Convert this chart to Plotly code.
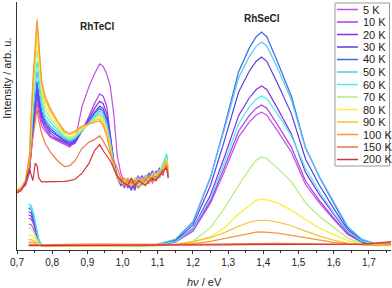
import plotly.graph_objects as go

temps = ["5 K", "10 K", "20 K", "30 K", "40 K", "50 K", "60 K", "70 K", "80 K", "90 K", "100 K", "150 K", "200 K"]
colors = ["#C24FE0", "#A83CEC", "#8A2EEA", "#5A3EE2", "#3A6AE4", "#58C4F6", "#46EEE2",
          "#AEEE80", "#F4EE3C", "#F6C232", "#F6963A", "#F27446", "#D43434"]

# RhSeCl spectra
se_x = [0.733, 0.740, 0.747, 0.755, 0.762, 0.770, 0.80, 0.90, 1.00, 1.05, 1.10, 1.15, 1.20, 1.25, 1.29,
        1.33, 1.36, 1.38, 1.395, 1.41, 1.44, 1.48, 1.52, 1.56, 1.60, 1.64, 1.68, 1.72, 1.763]
se_5 = [10.5, 10.2, 8.7, 5.6, 2.9, 1.9, 1.6, 1.6, 1.6, 1.7, 2.0, 3.2, 7.5, 18.9, 31.8, 45.6, 51.6, 54.4, 55.6, 54.4, 48.1, 39.4, 26.4, 18.9, 12.4, 6.2, 3.2, 2.1, 2.1]
se_10 = [12.8, 12.5, 10.6, 6.6, 3.3, 1.9, 1.6, 1.6, 1.6, 1.7, 2.1, 3.3, 7.9, 19.8, 33.5, 48.0, 54.2, 57.2, 58.5, 57.2, 50.6, 41.4, 27.8, 19.8, 13.0, 6.4, 3.3, 2.2, 2.2]
se_20 = [14.1, 13.7, 11.6, 7.2, 3.5, 2.0, 1.6, 1.6, 1.6, 1.7, 2.1, 3.5, 8.7, 22.2, 37.7, 54.2, 61.3, 64.7, 66.1, 64.7, 57.2, 46.8, 31.3, 22.2, 14.5, 7.1, 3.5, 2.2, 2.2]
se_30 = [15.4, 15.0, 12.6, 7.8, 3.7, 2.0, 1.6, 1.6, 1.6, 1.8, 2.2, 3.9, 10.0, 26.0, 44.3, 63.7, 72.1, 76.1, 77.8, 76.1, 67.3, 54.9, 36.7, 26.0, 16.8, 8.1, 3.9, 2.4, 2.4]
se_40 = [16.8, 16.3, 13.8, 8.4, 3.9, 2.1, 1.6, 1.6, 1.6, 1.8, 2.3, 4.2, 11.1, 29.2, 49.9, 71.9, 81.4, 86.0, 87.9, 86.0, 76.0, 62.0, 41.3, 29.2, 18.9, 8.9, 4.2, 2.5, 2.5]
se_50 = [18.5, 18.0, 15.1, 9.2, 4.1, 2.1, 1.6, 1.6, 1.6, 1.8, 2.3, 4.3, 11.5, 29.5, 49.0, 69.5, 78.0, 82.1, 83.9, 82.3, 73.5, 60.5, 41.0, 29.5, 19.5, 9.5, 4.4, 2.5, 2.5]
se_60 = [17.5, 17.0, 14.3, 8.8, 4.0, 2.1, 1.6, 1.6, 1.6, 1.7, 2.1, 3.4, 8.3, 21.0, 35.5, 50.9, 57.6, 60.8, 62.1, 61.0, 55.0, 46.0, 33.0, 23.5, 15.0, 7.5, 3.6, 2.3, 2.3]
se_70 = [8.9, 8.7, 7.4, 4.9, 2.7, 1.8, 1.6, 1.6, 1.6, 1.7, 1.8, 2.3, 3.5, 9.0, 17.0, 26.0, 32.5, 36.2, 37.5, 36.8, 33.0, 27.5, 19.0, 13.5, 9.0, 4.8, 2.7, 2.0, 2.0]
se_80 = [6.0, 5.9, 5.1, 3.6, 2.3, 1.7, 1.6, 1.6, 1.6, 1.6, 1.7, 2.2, 3.2, 5.4, 9.0, 14.5, 18.0, 20.0, 20.6, 20.2, 19.0, 16.0, 12.3, 8.8, 6.2, 3.8, 2.5, 2.0, 2.0]
se_90 = [4.3, 4.2, 3.8, 2.8, 2.0, 1.7, 1.6, 1.6, 1.6, 1.6, 1.8, 2.3, 3.4, 5.0, 7.0, 9.6, 11.2, 11.9, 12.1, 12.0, 11.3, 9.8, 7.6, 5.6, 4.0, 2.8, 2.1, 1.8, 1.8]
se_100 = [3.3, 3.2, 3.0, 2.4, 1.9, 1.7, 1.8, 2.0, 2.0, 1.8, 1.9, 2.2, 2.6, 3.5, 4.6, 5.9, 6.8, 7.2, 7.3, 7.2, 6.8, 5.9, 4.9, 3.9, 3.1, 2.6, 2.2, 2.0, 2.3]
se_150 = [2.4, 2.4, 2.3, 2.1, 2.0, 2.0, 2.2, 2.4, 2.3, 2.2, 2.2, 2.2, 2.3, 2.4, 2.5, 2.6, 2.7, 2.7, 2.8, 2.7, 2.7, 2.6, 2.5, 2.4, 2.3, 2.3, 2.4, 2.6, 3.0]
se_200 = [1.8, 1.8, 1.8, 1.8, 1.8, 1.8, 2.0, 2.1, 2.1, 2.0, 2.0, 2.0, 2.0, 2.1, 2.1, 2.2, 2.2, 2.2, 2.3, 2.2, 2.2, 2.2, 2.1, 2.1, 2.1, 2.2, 2.4, 2.8, 3.4]

# RhTeCl spectra (offset)
te_x = [0.700, 0.712, 0.724, 0.735, 0.745, 0.752, 0.757, 0.762, 0.770, 0.780, 0.795, 0.815, 0.835, 0.850,
        0.865, 0.885, 0.905, 0.920, 0.935, 0.945, 0.955, 0.965, 0.975, 0.985, 0.995, 1.005, 1.015, 1.025,
        1.035, 1.045, 1.055, 1.065, 1.075, 1.085, 1.095, 1.105, 1.115, 1.125, 1.130]
te_5 = [23.5, 24.5, 26, 31, 47, 56, 60, 55, 50, 48, 45.5, 44, 42.5, 41.5, 44, 58, 66, 71, 75, 74, 71, 66, 55, 38, 31, 27, 29, 25, 28, 30, 26, 29, 27, 31, 29, 32, 30, 35, 30]
te_10 = [23.5, 25, 26.5, 31, 48, 58, 62, 57, 52, 49, 46, 44.5, 43, 42, 43, 48, 54, 59, 63, 62, 58, 48, 36, 30, 28, 25, 28, 27, 24, 29, 28, 26, 30, 28, 32, 29, 33, 37, 31]
te_20 = [23.5, 25, 26.5, 32, 49, 59, 64, 59, 53, 50, 47, 45, 43.5, 42.5, 43.5, 48, 53, 57, 60, 59, 55, 46, 36, 29, 27, 29, 25, 28, 26, 27, 30, 27, 29, 32, 28, 31, 34, 35, 30]
te_30 = [24, 25, 27, 32, 50, 61, 66, 61, 54.5, 51, 48, 46, 44, 43, 44, 48, 52.5, 55.5, 58, 57, 53, 45, 35, 29, 26, 28, 27, 24, 29, 26, 28, 30, 27, 29, 31, 30, 32, 38, 31]
te_40 = [24, 25, 27, 33, 51, 63, 68, 63, 56, 52, 49, 46.5, 44.5, 43.5, 44.5, 48, 52, 55, 57, 56, 52, 45, 35, 29, 28, 26, 29, 27, 25, 28, 27, 29, 31, 28, 30, 33, 31, 36, 30]
te_50 = [24, 25, 27, 33, 54, 67, 72, 66, 58, 53, 50, 47.5, 45, 44, 45, 48, 51.5, 54, 56, 55, 51, 44, 35, 29, 27, 29, 26, 28, 27, 25, 29, 28, 27, 30, 29, 31, 35, 38, 32]
te_60 = [24, 25, 27, 34, 57, 71, 76, 70, 60, 54.5, 51.5, 48.5, 45.5, 44.5, 45.5, 48, 51, 53.5, 55, 54, 50, 43, 34, 29, 29, 27, 28, 26, 28, 29, 26, 28, 30, 29, 31, 29, 33, 39, 31]
te_70 = [24, 25, 27.5, 35, 60, 75, 81, 74, 63, 56.5, 53, 49.5, 46, 45, 46, 48.5, 51, 53, 54.5, 53, 49, 42, 34, 29, 28, 26, 27, 29, 27, 28, 27, 30, 28, 31, 30, 32, 34, 36, 33]
te_80 = [24, 25, 27.5, 36, 63, 79, 86, 78, 65, 58.5, 54.5, 50.5, 47, 45.5, 46.5, 49, 51, 52.5, 54, 52, 48, 41, 33, 29, 27, 28, 26, 27, 29, 26, 28, 27, 29, 30, 28, 31, 32, 37, 32]
te_90 = [24, 25, 28, 37, 66, 83, 91, 82, 67, 60.5, 56, 51.5, 47.5, 46.5, 47.5, 49.5, 51, 52, 53, 51, 47, 41, 33, 29, 28, 27, 29, 26, 27, 28, 29, 26, 28, 29, 31, 30, 33, 36, 31]
te_100 = [24, 25, 28, 38, 68, 85, 93, 84, 68, 62, 57, 52, 48, 47, 48, 50, 51, 51.5, 52, 50, 46, 40, 33, 29, 27, 29, 27, 28, 26, 27, 28, 29, 27, 30, 29, 31, 32, 35, 30]
te_150 = [23.5, 24.5, 27, 33, 45, 53, 57, 52, 47, 43, 39.5, 36, 33.6, 34, 36, 41, 43.5, 44.5, 46, 44, 41, 38.5, 36, 33, 29, 26, 28, 27, 28, 25, 27, 28, 30, 27, 29, 30, 31, 34, 29]
te_200 = [23, 24, 27, 33, 28, 35, 34, 29, 27.5, 27.5, 27.5, 27.5, 27.7, 28, 28.5, 31, 35, 40, 42.5, 40, 38, 36, 33, 30, 28, 27, 26, 29, 26, 28, 27, 26, 28, 29, 28, 30, 32, 33, 29]

xtick_vals = [0.7, 0.8, 0.9, 1.0, 1.1, 1.2, 1.3, 1.4, 1.5, 1.6, 1.7]
xtick_text = ["0,7", "0,8", "0,9", "1,0", "1,1", "1,2", "1,3", "1,4", "1,5", "1,6", "1,7"]
xminor_vals = [0.75, 0.85, 0.95, 1.05, 1.15, 1.25, 1.35, 1.45, 1.55, 1.65, 1.75]

se_series = [se_5, se_10, se_20, se_30, se_40, se_50, se_60, se_70, se_80, se_90, se_100, se_150, se_200]
te_series = [te_5, te_10, te_20, te_30, te_40, te_50, te_60, te_70, te_80, te_90, te_100, te_150, te_200]

FONT = "Liberation Sans, Arial, sans-serif"
fig = go.Figure()
for name, col, sy, ty in zip(temps, colors, se_series, te_series):
    fig.add_trace(go.Scatter(x=se_x, y=sy, mode="lines", name=name, showlegend=False,
                             line=dict(color=col, width=1.2)))
    fig.add_trace(go.Scatter(x=te_x, y=ty, mode="lines", name=name, showlegend=False,
                             line=dict(color=col, width=1.2)))

XR = [0.7, 1.763]
fig.update_layout(
    width=392, height=288,
    margin=dict(l=17, r=1, t=2, b=38),
    paper_bgcolor="white", plot_bgcolor="white",
    font=dict(family=FONT, size=10, color="#222"),
    xaxis=dict(range=XR, showline=True, linecolor="#333", linewidth=1, showgrid=False, zeroline=False,
               ticks="outside", ticklen=3, tickcolor="#333", tickvals=xtick_vals, ticktext=xtick_text,
               tickfont=dict(size=10, family=FONT, color="#222"),
               minor=dict(tickvals=xminor_vals, ticks="outside", ticklen=2, tickcolor="#333")),
    xaxis2=dict(range=XR, overlaying="x", side="top", anchor="y", showline=True, linecolor="#333",
                linewidth=1, showgrid=False, zeroline=False, ticks="inside", ticklen=3, tickcolor="#333",
                tickvals=xtick_vals, showticklabels=False,
                minor=dict(tickvals=xminor_vals, ticks="inside", ticklen=2, tickcolor="#333")),
    yaxis=dict(range=[0, 100], showline=True, linecolor="#333", linewidth=1, showgrid=False,
               zeroline=False, ticks="", showticklabels=False),
)

# axis titles and labels
fig.add_annotation(text="<i>hν</i> / eV", xref="paper", yref="paper", x=0.5, y=-0.128,
                   showarrow=False, xanchor="center", yanchor="middle", font=dict(size=11, family=FONT, color="#222"))
fig.add_annotation(text="Intensity / arb. u.", xref="paper", yref="paper", x=-0.027, y=0.694,
                   showarrow=False, textangle=-90, xanchor="center", yanchor="middle",
                   font=dict(size=11, family=FONT, color="#222"))
fig.add_annotation(text="<b>RhTeCl</b>", x=0.928, y=90.3, showarrow=False, xanchor="center", yanchor="middle",
                   font=dict(size=10, family=FONT, color="#222"))
fig.add_annotation(text="<b>RhSeCl</b>", x=1.397, y=93.5, showarrow=False, xanchor="center", yanchor="middle",
                   font=dict(size=10, family=FONT, color="#222"))

# legend box drawn manually (compact spacing)
def px2px(xp):
    return (xp - 17) / 374.0

def py2py(yp):
    return (250 - yp) / 248.0

fig.add_shape(type="rect", xref="paper", yref="paper", x0=px2px(335), x1=px2px(389.5),
              y0=py2py(166), y1=py2py(3), line=dict(color="#9a9a9a", width=1), fillcolor="white")
for i, (name, col) in enumerate(zip(temps, colors)):
    yy = py2py(9.5 + 12.5 * i)
    fig.add_shape(type="line", xref="paper", yref="paper", x0=px2px(337), x1=px2px(358), y0=yy, y1=yy,
                  line=dict(color=col, width=1.5))
    fig.add_annotation(text=name, xref="paper", yref="paper", x=px2px(361), y=yy, showarrow=False,
                       xanchor="left", yanchor="middle", font=dict(size=11, family=FONT, color="#222"))

fig.write_html("out.html", config={"displayModeBar": False},
               post_script="document.body.style.margin='0px';document.body.style.padding='0px';")
